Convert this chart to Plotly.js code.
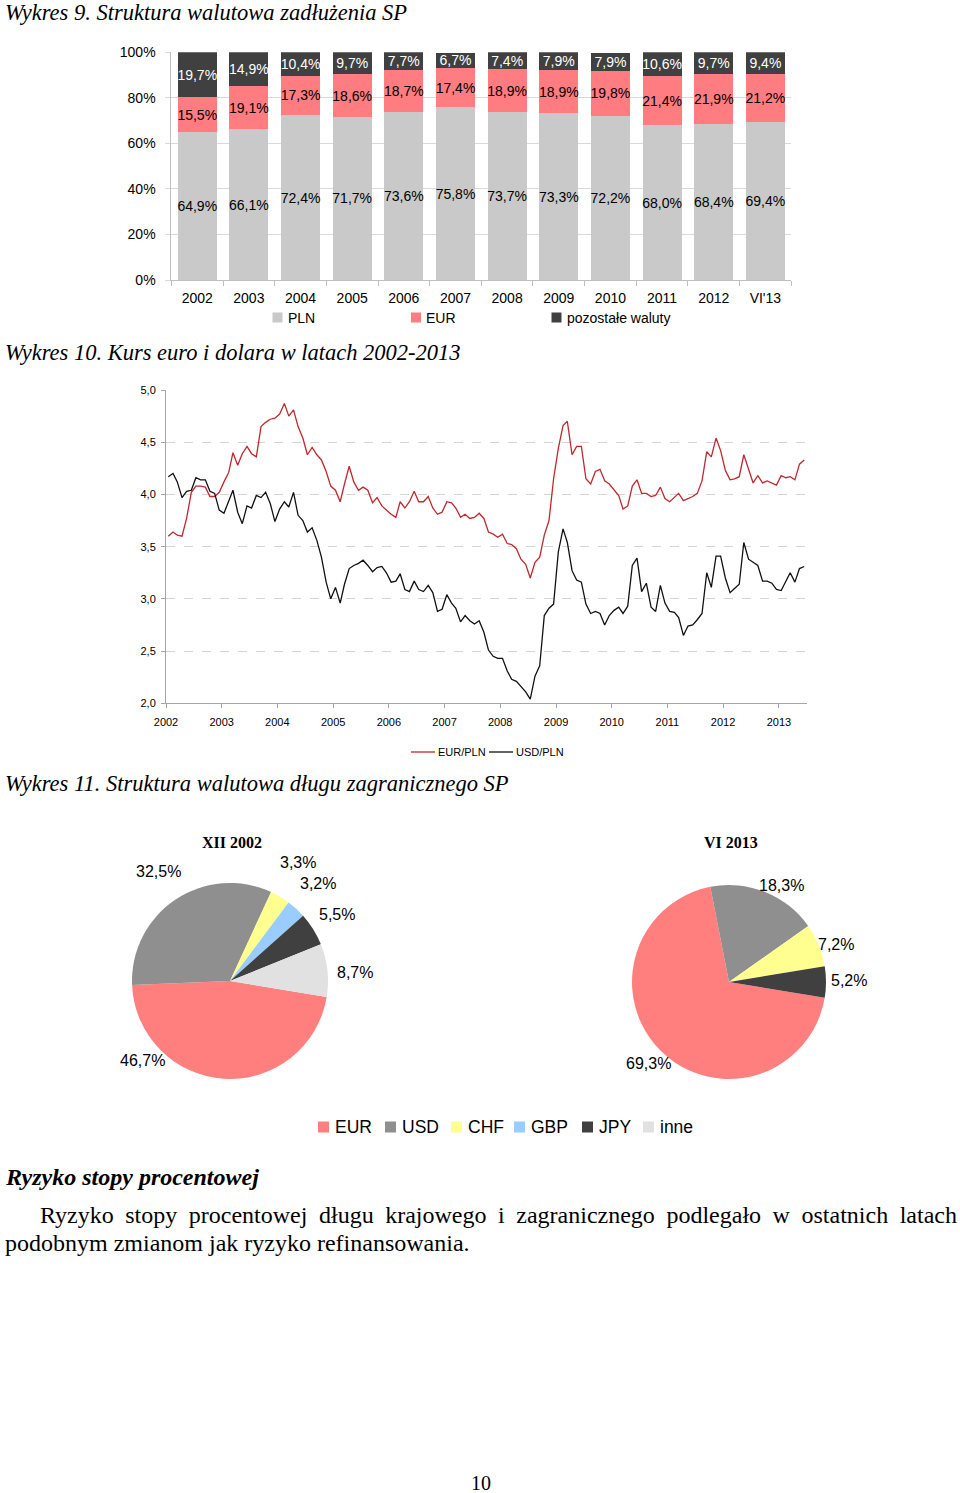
<!DOCTYPE html>
<html>
<head>
<meta charset="utf-8">
<script src="https://cdn.plot.ly/plotly-3.0.1.min.js"></script>
<style>
html,body{margin:0;padding:0;background:#fff;}
#page{position:relative;width:960px;height:1493px;overflow:hidden;background:#fff;}
#chart{position:absolute;left:0;top:0;width:960px;height:1493px;}
.para{position:absolute;font-family:"Liberation Serif","Times New Roman",serif;font-size:24px;line-height:28px;color:#000;white-space:nowrap;}
</style>
</head>
<body>
<div id="page">
  <div id="chart"></div>
  <div class="para" style="left:40px;top:1201px;width:917px;white-space:normal;text-align:justify;text-align-last:justify;">Ryzyko stopy procentowej długu krajowego i zagranicznego podlegało w ostatnich latach</div>
  <div class="para" style="left:5px;top:1229px;">podobnym zmianom jak ryzyko refinansowania.</div>
</div>
<script>
// ---------- Wykres 9 data ----------
const barCategories = ['2002','2003','2004','2005','2006','2007','2008','2009','2010','2011','2012',"VI'13"];
const plnShare = [64.9,66.1,72.4,71.7,73.6,75.8,73.7,73.3,72.2,68.0,68.4,69.4];
const eurShare = [15.5,19.1,17.3,18.6,18.7,17.4,18.9,18.9,19.8,21.4,21.9,21.2];
const otherShare = [19.7,14.9,10.4,9.7,7.7,6.7,7.4,7.9,7.9,10.6,9.7,9.4];
const barSeriesNames = ['PLN','EUR','pozostałe waluty'];

// ---------- Wykres 10 data (monthly, I 2002 - VI 2013) ----------
const eurPln = [
  3.60,3.64,3.61,3.60,3.77,4.02,4.08,4.08,4.07,3.98,3.98,4.02,
  4.12,4.21,4.40,4.28,4.39,4.46,4.39,4.36,4.65,4.69,4.72,4.73,
  4.77,4.87,4.75,4.81,4.65,4.54,4.38,4.45,4.38,4.33,4.22,4.08,
  4.04,3.93,4.10,4.27,4.12,4.04,4.07,4.04,3.92,3.97,3.89,3.85,
  3.81,3.78,3.93,3.87,3.93,4.03,3.93,3.93,3.98,3.87,3.81,3.83,
  3.93,3.92,3.87,3.78,3.81,3.77,3.78,3.82,3.77,3.64,3.62,3.59,
  3.62,3.53,3.52,3.48,3.38,3.33,3.20,3.35,3.40,3.61,3.75,4.15,
  4.44,4.66,4.70,4.38,4.46,4.46,4.15,4.10,4.22,4.24,4.13,4.10,
  4.05,3.99,3.86,3.89,4.08,4.14,4.01,4.01,3.98,3.99,4.07,3.96,
  3.93,3.97,4.01,3.94,3.96,3.98,4.01,4.13,4.41,4.36,4.54,4.42,
  4.23,4.14,4.15,4.17,4.38,4.23,4.11,4.18,4.11,4.13,4.11,4.09,
  4.18,4.16,4.17,4.14,4.29,4.33
];
const usdPln = [
  4.17,4.20,4.12,3.97,4.03,4.04,4.16,4.14,4.14,4.03,4.01,3.85,
  3.82,3.93,4.04,3.83,3.72,3.89,3.87,3.99,3.97,4.02,3.91,3.74,
  3.86,3.93,3.88,4.02,3.80,3.75,3.64,3.68,3.56,3.40,3.16,3.00,
  3.11,2.96,3.14,3.29,3.32,3.34,3.37,3.32,3.26,3.30,3.31,3.25,
  3.16,3.17,3.24,3.09,3.07,3.17,3.09,3.07,3.13,3.06,2.88,2.90,
  3.04,2.96,2.91,2.78,2.84,2.79,2.76,2.79,2.68,2.51,2.45,2.43,
  2.43,2.31,2.23,2.21,2.16,2.11,2.04,2.26,2.36,2.84,2.91,2.95,
  3.45,3.67,3.54,3.27,3.18,3.16,2.95,2.86,2.88,2.86,2.75,2.84,
  2.89,2.92,2.86,2.93,3.32,3.39,3.07,3.15,2.92,2.88,3.13,2.96,
  2.88,2.87,2.82,2.65,2.74,2.75,2.80,2.86,3.25,3.11,3.41,3.41,
  3.20,3.06,3.10,3.14,3.54,3.38,3.35,3.32,3.17,3.17,3.15,3.09,
  3.08,3.17,3.25,3.16,3.29,3.31
];
const lineSeriesNames = ['EUR/PLN','USD/PLN'];
const firstYear = 2002;

// ---------- Wykres 11 data ----------
const pieLabels = ['EUR','USD','CHF','GBP','JPY','inne'];
const pie2002 = [46.7,32.5,3.3,3.2,5.5,8.7];
const pie2013 = [69.3,18.3,7.2,0,5.2,0];
const pieTitles = ['XII 2002','VI 2013'];

// ---------- styling / layout helpers ----------
const W = 960, H = 1493;
const px = v => v / W;
const py = v => 1 - v / H;
const SANS = 'Liberation Sans, Arial, sans-serif';
const SERIF = 'Liberation Serif, Times New Roman, serif';
const barColors = ['#c9c9c9','#ff7c80','#404040'];
const barTextColors = ['#000000','#000000','#ffffff'];
const lineColors = ['#c1272d','#111111'];
const pieColors = ['#ff7f7f','#8f8f8f','#ffff8f','#99ccff','#404040','#e1e1e1'];

// month dates (mid-month) for the line chart
const monthDates = eurPln.map((_, i) => {
  const y = firstYear + Math.floor(i / 12);
  const m = (i % 12) + 1;
  return y + '-' + String(m).padStart(2, '0') + '-16';
});

const traces = [];
[plnShare, eurShare, otherShare].forEach((vals, k) => {
  traces.push({
    type: 'bar', x: barCategories, y: vals, name: barSeriesNames[k],
    marker: {color: barColors[k], line: {width: 0}},
    texttemplate: '%{y:.1f}%', textposition: 'inside', insidetextanchor: 'middle',
    textangle: 0, constraintext: 'none',
    textfont: {family: SANS, size: 14, color: barTextColors[k]},
    xaxis: 'x', yaxis: 'y', hoverinfo: 'skip'
  });
});
[eurPln, usdPln].forEach((vals, k) => {
  traces.push({
    type: 'scatter', mode: 'lines', x: monthDates, y: vals, name: lineSeriesNames[k],
    line: {color: lineColors[k], width: 1.3},
    xaxis: 'x2', yaxis: 'y2', hoverinfo: 'skip'
  });
});
const pieDomains = [
  {x: [px(132), px(328)], y: [py(1079), py(883)]},
  {x: [px(632), px(826)], y: [py(1079), py(885)]}
];
[pie2002, pie2013].forEach((vals, k) => {
  traces.push({
    type: 'pie', labels: pieLabels, values: vals, sort: false,
    direction: 'clockwise', rotation: 99.4, textinfo: 'none',
    marker: {colors: pieColors, line: {width: 0}},
    domain: pieDomains[k], hoverinfo: 'skip'
  });
});

const annotations = [];
const shapes = [];
const ann = (x, y, text, font, xanchor) => annotations.push({xref: 'paper', yref: 'paper',
  x: px(x), y: py(y), xanchor: xanchor || 'center', yanchor: 'middle', showarrow: false,
  text: text, font: font});

// pie value labels: text from the data, placement from the reference
const pieLabelPos = [
  [[142,1060],[158,871],[298,862],[318,883],[337,914],[355,972]],
  [[648,1063],[781,885],[836,944],null,[849,980],null]
];
const fmt = v => v.toFixed(1).replace('.', ',') + '%';
[pie2002, pie2013].forEach((vals, k) => {
  vals.forEach((v, j) => {
    const p = pieLabelPos[k][j];
    if (!p || v <= 0) return;
    ann(p[0], p[1], fmt(v), {family: SANS, size: 16, color: '#000'});
  });
});
const pieTitlePos = [[232,842],[731,842]];
pieTitles.forEach((t, k) => ann(pieTitlePos[k][0], pieTitlePos[k][1], t,
  {family: SERIF, size: 16, weight: 'bold', color: '#000'}));

// ---------- legends (drawn as layout items) ----------
function squareLegend(names, colors, keyX, cy, size, textGap, fontSize) {
  names.forEach((n, i) => {
    const x0 = keyX[i];
    shapes.push({type: 'rect', xref: 'paper', yref: 'paper', x0: px(x0), x1: px(x0 + size),
      y0: py(cy + size / 2), y1: py(cy - size / 2), fillcolor: colors[i], line: {width: 0}});
    ann(x0 + size + textGap - 1, cy, n, {family: SANS, size: fontSize, color: '#000'}, 'left');
  });
}
squareLegend(barSeriesNames, barColors, [272.5, 411, 551.5], 317.5, 10, 4, 14);
squareLegend(pieLabels, pieColors, [318, 385, 451, 514, 582, 643], 1127, 11, 5, 17.5);
const lineKeyX = [411, 489];
lineSeriesNames.forEach((n, i) => {
  const x0 = lineKeyX[i];
  shapes.push({type: 'line', xref: 'paper', yref: 'paper', x0: px(x0), x1: px(x0 + 24),
    y0: py(752), y1: py(752), line: {color: lineColors[i], width: 1.3}});
  ann(x0 + 25, 752.5, n, {family: SANS, size: 11, color: '#000'}, 'left');
});

// ---------- page texts ----------
const titles = [
  ['Wykres 9. Struktura walutowa zadłużenia SP', 12],
  ['Wykres 10. Kurs euro i dolara w latach 2002-2013', 352],
  ['Wykres 11. Struktura walutowa długu zagranicznego SP', 784]
];
titles.forEach(t => ann(3, t[1], t[0], {family: SERIF, size: 22.5, style: 'italic', color: '#000'}, 'left'));
ann(3, 1177, 'Ryzyko stopy procentowej', {family: SERIF, size: 24, style: 'italic', weight: 'bold', color: '#000'}, 'left');
ann(481, 1483, '10', {family: SERIF, size: 20, color: '#000'});

const layout = {
  width: W, height: H, margin: {l: 0, r: 0, t: 0, b: 0},
  paper_bgcolor: '#ffffff', plot_bgcolor: '#ffffff', showlegend: false,
  separators: ', ', font: {family: SANS, color: '#000'},
  barmode: 'stack', bargap: 0.245, hovermode: false,
  xaxis: {domain: [px(171.4), px(791.2)], anchor: 'y', type: 'category',
    showline: true, linecolor: '#bfbfbf', linewidth: 1, ticks: 'outside', tickson: 'boundaries',
    ticklen: 5, tickcolor: '#bfbfbf', showgrid: false, tickfont: {family: SANS, size: 14, color: '#000'},
    ticklabelstandoff: 5, fixedrange: true},
  yaxis: {domain: [py(280), py(52.3)], anchor: 'x', range: [0, 100], dtick: 20, ticksuffix: '%',
    showline: true, linecolor: '#bfbfbf', ticks: 'outside', ticklen: 5, tickcolor: '#d9d9d9',
    gridcolor: '#d9d9d9', zeroline: false, tickfont: {family: SANS, size: 14, color: '#000'},
    ticklabelstandoff: 7, fixedrange: true},
  xaxis2: {domain: [px(166), px(806.5)], anchor: 'y2', type: 'date',
    range: ['2002-01-01', '2013-07-01'], tick0: '2002-01-01', dtick: 'M12', tickformat: '%Y',
    showline: true, linecolor: '#a6a6a6', ticks: 'outside', ticklen: 4, tickcolor: '#a6a6a6',
    showgrid: false, tickfont: {family: SANS, size: 11, color: '#000'}, ticklabelstandoff: 4, fixedrange: true},
  yaxis2: {domain: [py(703.3), py(390)], anchor: 'x2', range: [2, 5], dtick: 0.5, tickformat: '.1f',
    showline: true, linecolor: '#a6a6a6', ticks: 'outside', ticklen: 4, tickcolor: '#a6a6a6',
    gridcolor: '#d4d4d4', griddash: 'dash', zeroline: false,
    tickfont: {family: SANS, size: 11, color: '#000'}, ticklabelstandoff: 3, fixedrange: true},
  annotations: annotations,
  shapes: shapes
};

Plotly.newPlot('chart', traces, layout, {staticPlot: true, displayModeBar: false});
</script>
</body>
</html>
